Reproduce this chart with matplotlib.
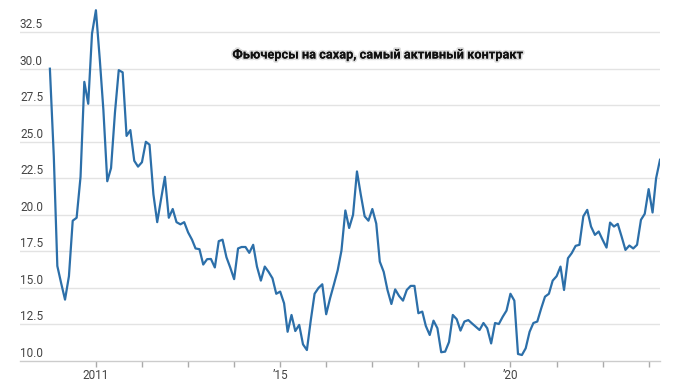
import datetime
import matplotlib
matplotlib.use("Agg")
import matplotlib.pyplot as plt
import matplotlib.transforms as mtransforms
import matplotlib.patheffects as pe
from matplotlib import font_manager
import pandas as pd

installed = {f.name for f in font_manager.fontManager.ttflist}
narrow = 'Liberation Sans Narrow' if 'Liberation Sans Narrow' in installed else 'Roboto'
plt.rcParams['font.family'] = [narrow, 'DejaVu Sans']

# monthly sugar futures (front month), US cents/lb, Jan 2010 .. Apr 2023
start_month = '2010-01-01'
prices = [
    30.0, 24.0, 16.5, 15.3, 14.2, 15.8, 19.6, 19.8, 22.6, 29.1, 27.6, 32.4,
    34.0, 30.6, 27.2, 22.3, 23.2, 27.0, 29.9, 29.75, 25.4, 25.8, 23.7, 23.3,
    23.6, 25.0, 24.8, 21.4, 19.5, 21.1, 22.6, 19.8, 20.4, 19.5, 19.35, 19.5,
    18.8, 18.3, 17.7, 17.65, 16.6, 16.97, 16.98, 16.4, 18.2, 18.3, 17.1, 16.4,
    15.6, 17.7, 17.8, 17.8, 17.4, 17.95, 16.46, 15.5, 16.46, 16.1, 15.66, 14.6,
    14.75, 13.95, 12.0, 13.15, 12.05, 12.47, 11.14, 10.75, 12.8, 14.6, 15.0, 15.25,
    13.2, 14.3, 15.2, 16.2, 17.55, 20.3, 19.1, 20.0, 22.97, 21.4, 19.9, 19.6,
    20.4, 19.4, 16.8, 16.1, 14.86, 13.9, 14.9, 14.45, 14.13, 14.86, 15.14, 15.14,
    13.27, 13.38, 12.4, 11.78, 12.76, 12.24, 10.6, 10.64, 11.3, 13.15, 12.86, 12.08,
    12.7, 12.8, 12.58, 12.35, 12.12, 12.6, 12.24, 11.2, 12.6, 12.53, 13.03, 13.45,
    14.6, 14.13, 10.48, 10.41, 10.87, 12.0, 12.6, 12.7, 13.6, 14.4, 14.6, 15.5,
    15.8, 16.46, 14.86, 17.03, 17.38, 17.88, 17.95, 19.9, 20.34, 19.2, 18.63, 18.86,
    18.29, 17.76, 19.47, 19.2, 19.38, 18.5, 17.6, 17.9, 17.7, 17.95, 19.66, 20.07,
    21.76, 20.16, 22.5, 23.77,
]
dates = pd.date_range(start_month, periods=len(prices), freq='MS')

tick_years = list(range(2011, 2024))
labelled_years = {2011: '2011', 2015: '\u201915', 2020: '\u201920'}
y_ticks = [10.0, 12.5, 15.0, 17.5, 20.0, 22.5, 25.0, 27.5, 30.0, 32.5]
title = 'Фьючерсы на сахар, самый активный контракт'

fig = plt.figure(figsize=(7, 3.88), dpi=100)
ax = fig.add_axes([20 / 700, 27 / 388, 640 / 700, 361 / 388])

ax.plot(dates, prices, color='#2c6fa9', lw=1.6, solid_joinstyle='round', zorder=3)

ax.set_xlim(datetime.datetime(2009, 5, 9), datetime.datetime(2023, 4, 1))
ax.set_ylim(10, 34.7)

# horizontal grid
for v in y_ticks[1:]:
    ax.axhline(v, color='#e3e3e3', lw=1, zorder=1)
ax.set_yticks([])

# y labels sit just above the grid lines, at the left edge
trans = mtransforms.blended_transform_factory(ax.transAxes, ax.transData)
trans = mtransforms.offset_copy(trans, fig=fig, x=0, y=0.8, units='points')
for v in y_ticks:
    ax.text(0, v, f'{v:.1f}', transform=trans, ha='left', va='bottom',
            fontsize=8.5, color='#444444')

for s in ['left', 'right', 'top']:
    ax.spines[s].set_visible(False)
ax.spines['bottom'].set_color('#cccccc')
ax.spines['bottom'].set_linewidth(1)

xt = [datetime.datetime(y, 1, 1) for y in tick_years]
ax.set_xticks(xt)
ax.set_xticklabels([labelled_years.get(y, '') for y in tick_years])
ax.tick_params(axis='x', length=4, width=1, color='#aaaaaa', pad=2,
               labelsize=8.5, labelcolor='#444444')

txt = fig.text(378 / 700, 1 - 55 / 388, title, ha='center', va='center',
               fontsize=9.2, fontweight='bold', color='#111111')
txt.set_path_effects([pe.withStroke(linewidth=2.5, foreground='#dddddd'),
                      pe.Normal()])

fig.savefig('out.png', dpi=100)
